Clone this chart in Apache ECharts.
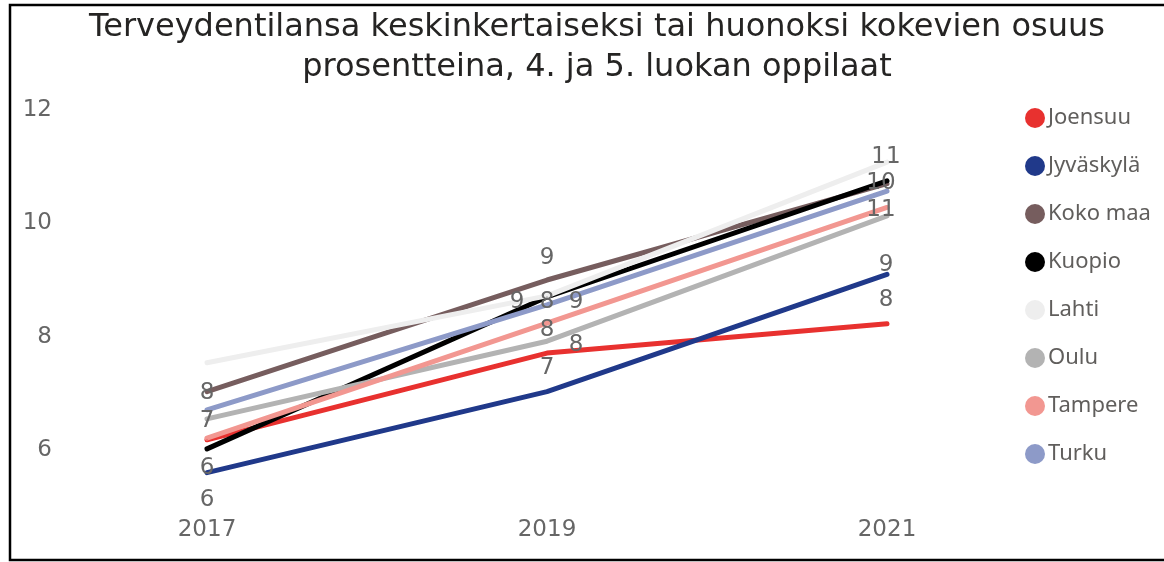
<!DOCTYPE html>
<html>
<head>
<meta charset="utf-8">
<script src="https://cdn.jsdelivr.net/npm/echarts@6/dist/echarts.min.js"></script>
<style>
html,body{margin:0;padding:0;background:#fff;}
#chart{width:1164px;height:562px;}
</style>
</head>
<body>
<div id="chart"></div>
<script>
const years = ['2017', '2019', '2021'];
const seriesNames = ['Joensuu', 'Jyväskylä', 'Koko maa', 'Kuopio', 'Lahti', 'Oulu', 'Tampere', 'Turku'];
const joensuu   = [6.18, 7.71, 8.23];
const jyvaskyla = [5.60, 7.03, 9.10];
const kokoMaa   = [7.03, 9.00, 10.70];
const kuopio    = [6.02, 8.70, 10.75];
const lahti     = [7.54, 8.72, 11.08];
const oulu      = [6.55, 7.92, 10.13];
const tampere   = [6.21, 8.24, 10.28];
const turku     = [6.71, 8.56, 10.57];
const yTickLabels = [6, 8, 10, 12];

const values = [joensuu, jyvaskyla, kokoMaa, kuopio, lahti, oulu, tampere, turku];
const colors = ['#E8312F', '#20398A', '#765D5E', '#000000', '#EEEEEE', '#B3B3B3', '#F29791', '#8D9AC8'];

// label offsets (style/layout only) per series per point; null = no label
const labelOffsets = {
  'Joensuu':   [null, [29, -8], [-1, -24]],
  'Jyväskylä': [[0, 27], [0, -24], [-1, -9]],
  'Koko maa':  [[0, 29], [0, -22], null],
  'Kuopio':    [[0, 19], [29, 5], null],
  'Lahti':     [[0, 30], [-30, 6], [-1, -5]],
  'Oulu':      [null, [0, -11], [-6, -33]],
  'Tampere':   [null, [0, -21], null],
  'Turku':     [null, null, [-6, 19]]
};

const numFont = 'DejaVu Sans';
const series = seriesNames.map((name, si) => ({
  name: name,
  type: 'line',
  data: values[si].map((v, i) => {
    const off = labelOffsets[name][i];
    return {
      value: v,
      label: off ? { show: true, position: 'inside', offset: off } : { show: false }
    };
  }),
  color: colors[si],
  symbol: 'circle',
  symbolSize: 1,
  showSymbol: true,
  lineStyle: { width: 5, color: colors[si], cap: 'round', join: 'round' },
  itemStyle: { color: colors[si] },
  label: {
    fontFamily: numFont,
    fontSize: 23,
    color: '#666666',
    formatter: p => String(Math.round(p.value))
  },
  emphasis: { disabled: true },
  animation: false
}));

const chart = echarts.init(document.getElementById('chart'), null, { renderer: 'canvas' });
chart.setOption({
  backgroundColor: '#ffffff',
  animation: false,
  graphic: [
    {
      type: 'rect',
      shape: { x: 10, y: 5, width: 1200, height: 555 },
      style: { fill: 'none', stroke: '#000', lineWidth: 2.5 },
      silent: true
    },
    {
      type: 'text',
      style: {
        text: 'Terveydentilansa keskinkertaiseksi tai huonoksi kokevien osuus\nprosentteina, 4. ja 5. luokan oppilaat',
        x: 597, y: 8,
        textAlign: 'center', textVerticalAlign: 'top',
        fontFamily: numFont, fontSize: 32, lineHeight: 40,
        fill: '#252423'
      },
      silent: true
    }
  ],
  legend: {
    orient: 'vertical',
    left: 1025, top: 107,
    padding: 0,
    itemWidth: 20, itemHeight: 20, itemGap: 26,
    icon: 'circle',
    data: seriesNames,
    textStyle: { fontFamily: 'Noto Sans', fontSize: 22, color: '#605E5C', padding: [0, 0, 0, -2] }
  },
  grid: { left: 37, width: 1020, top: 110, height: 396.67 },
  xAxis: {
    type: 'category',
    data: years,
    boundaryGap: true,
    axisLine: { show: false },
    axisTick: { show: false },
    axisLabel: { fontFamily: numFont, fontSize: 23, color: '#666666', margin: 12 }
  },
  yAxis: {
    type: 'value',
    min: 5, max: 12, interval: 1,
    splitLine: { show: false },
    axisLine: { show: false },
    axisTick: { show: false },
    axisLabel: {
      fontFamily: numFont, fontSize: 23, color: '#666666', margin: -15,
      formatter: v => (yTickLabels.indexOf(v) >= 0 ? String(v) : '')
    }
  },
  series: series
});
</script>
</body>
</html>
